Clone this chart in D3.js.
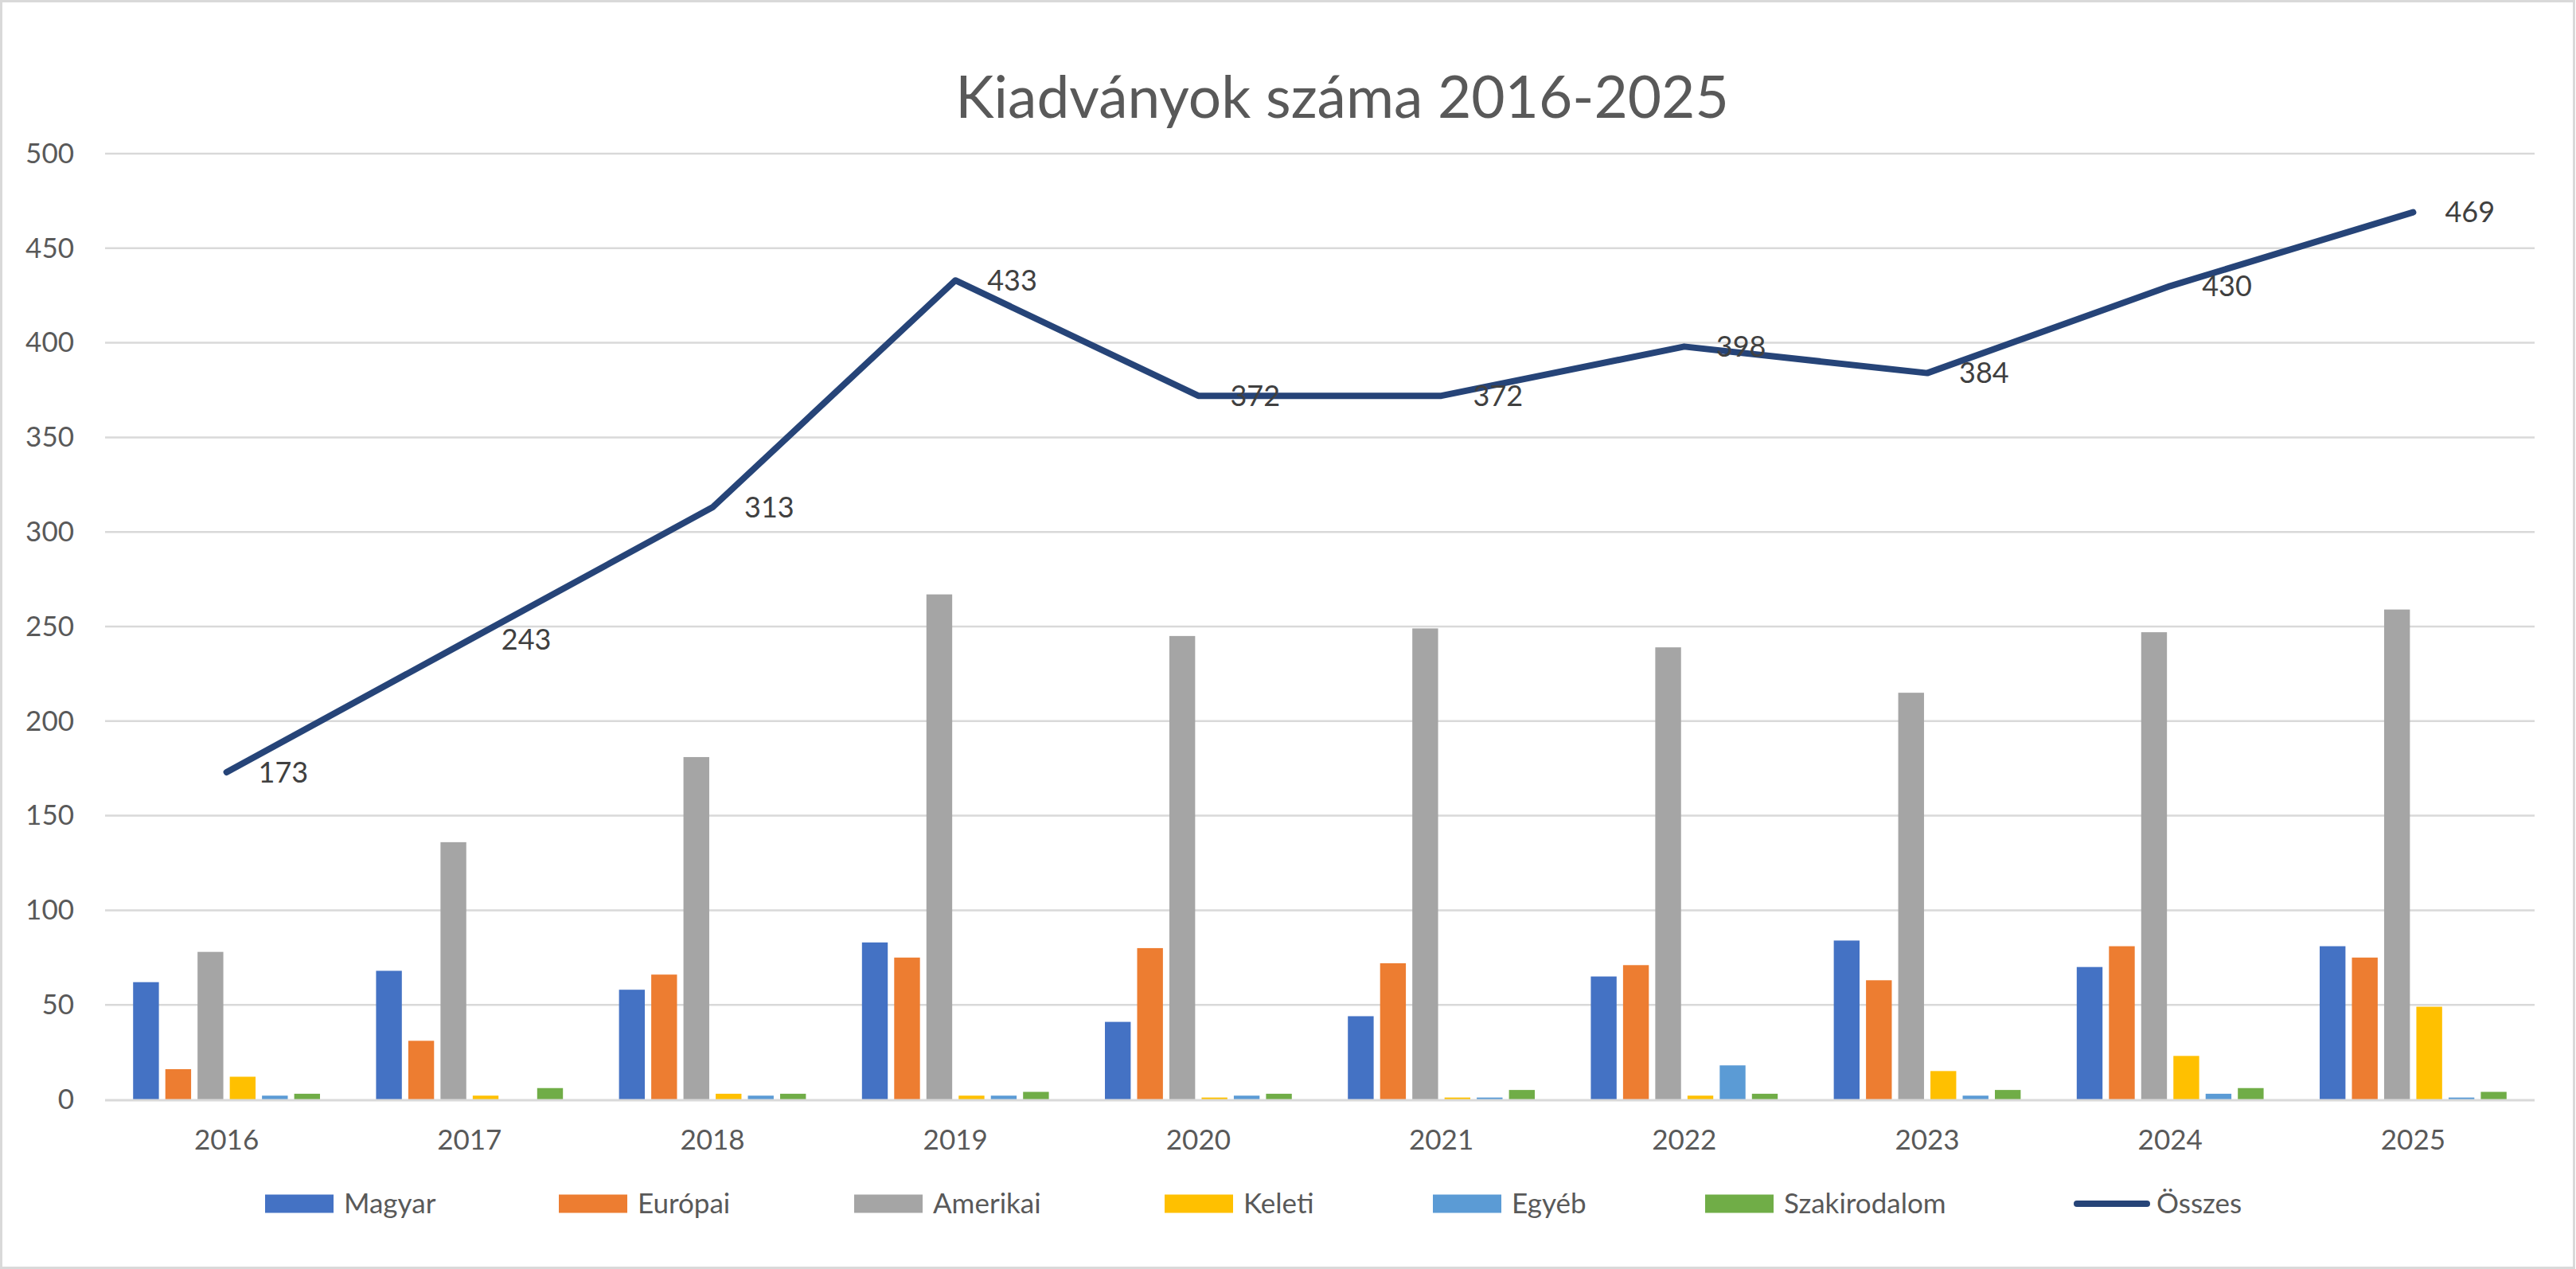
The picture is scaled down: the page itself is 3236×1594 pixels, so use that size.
<!DOCTYPE html>
<html>
<head>
<meta charset="utf-8">
<script src="https://cdn.jsdelivr.net/npm/d3@7"></script>
<style>
  html, body { margin: 0; padding: 0; background: #fff; }
  svg { display: block; }
  text { font-family: Lato, "Open Sans", sans-serif; }
</style>
</head>
<body>
<svg id="chart" width="3236" height="1594"></svg>
<script>
const years = ["2016","2017","2018","2019","2020","2021","2022","2023","2024","2025"];
const seriesNames = ["Magyar","Európai","Amerikai","Keleti","Egyéb","Szakirodalom"];
const magyar      = [62, 68, 58, 83, 41, 44, 65, 84, 70, 81];
const europai     = [16, 31, 66, 75, 80, 72, 71, 63, 81, 75];
const amerikai    = [78, 136, 181, 267, 245, 249, 239, 215, 247, 259];
const keleti      = [12, 2, 3, 2, 1, 1, 2, 15, 23, 49];
const egyeb       = [2, 0, 2, 2, 2, 1, 18, 2, 3, 1];
const szakirodalom= [3, 6, 3, 4, 3, 5, 3, 5, 6, 4];
const osszes      = [173, 243, 313, 433, 372, 372, 398, 384, 430, 469];
const yTicks      = [0, 50, 100, 150, 200, 250, 300, 350, 400, 450, 500];
const lineName    = "Összes";
const title       = "Kiadványok száma 2016-2025";

const seriesValues = [magyar, europai, amerikai, keleti, egyeb, szakirodalom];
const colors = ["#4472C4", "#ED7D31", "#A5A5A5", "#FFC000", "#5B9BD5", "#70AD47"];
const lineColor = "#264478";

const W = 3236, H = 1594;
const svg = d3.select("#chart");

// chart border
svg.append("rect").attr("x", 1.5).attr("y", 1.5).attr("width", W - 4).attr("height", H - 3)
  .attr("fill", "#fff").attr("stroke", "#D9D9D9").attr("stroke-width", 3);

const x = d3.scaleBand().domain(years).range([132, 3184]).paddingInner(0).paddingOuter(0);
const xSub = d3.scaleBand().domain(seriesNames).range([0, x.bandwidth()]).paddingInner(0.2).paddingOuter(0.87);
const y = d3.scaleLinear().domain([0, 500]).range([1381, 193]);

// gridlines
svg.append("g").selectAll("line").data(yTicks.filter(t => t > 0)).join("line")
  .attr("x1", 132).attr("x2", 3184)
  .attr("y1", d => y(d)).attr("y2", d => y(d))
  .attr("stroke", "#D9D9D9").attr("stroke-width", 2.5);

// y axis labels
const yAxis = d3.axisLeft(y).tickValues(yTicks).tickSize(0).tickPadding(0);
const gy = svg.append("g").attr("transform", "translate(93,0)").call(yAxis);
gy.select(".domain").remove();
gy.selectAll("text").attr("font-size", 35).attr("fill", "#595959").attr("font-family", "Lato, sans-serif");

// bars
seriesNames.forEach((name, si) => {
  svg.append("g").selectAll("rect").data(years).join("rect")
    .attr("x", (d) => x(d) + xSub(name))
    .attr("width", xSub.bandwidth())
    .attr("y", (d, i) => y(seriesValues[si][i]))
    .attr("height", (d, i) => y(0) - y(seriesValues[si][i]))
    .attr("fill", colors[si]);
});

// x axis baseline
svg.append("line").attr("x1", 132).attr("x2", 3184).attr("y1", y(0) + 1).attr("y2", y(0) + 1)
  .attr("stroke", "#D9D9D9").attr("stroke-width", 3);

// x axis labels
const xAxis = d3.axisBottom(x).tickSize(0).tickPadding(0);
const gx = svg.append("g").attr("transform", "translate(0,1419)").call(xAxis);
gx.select(".domain").remove();
gx.selectAll("text").attr("font-size", 35).attr("fill", "#595959").attr("font-family", "Lato, sans-serif");

// total line
const cx = d => x(d) + x.bandwidth() / 2;
const line = d3.line().x((d, i) => cx(years[i])).y(d => y(d));
svg.append("path").datum(osszes).attr("d", line)
  .attr("fill", "none").attr("stroke", lineColor).attr("stroke-width", 8)
  .attr("stroke-linejoin", "round").attr("stroke-linecap", "round");

// data labels
svg.append("g").selectAll("text").data(osszes).join("text")
  .attr("x", (d, i) => cx(years[i]) + 40)
  .attr("y", d => y(d))
  .attr("dy", "0.35em")
  .attr("font-size", 36).attr("fill", "#404040")
  .text(d => d);

// title
svg.append("text").attr("x", 1686).attr("y", 148).attr("text-anchor", "middle")
  .attr("font-size", 73).attr("fill", "#595959").text(title);

// legend
const legendX = [333, 702, 1073, 1463, 1800, 2142, 2605];
const legendY = 1512;
const lg = svg.append("g");
seriesNames.forEach((name, i) => {
  lg.append("rect").attr("x", legendX[i]).attr("y", legendY - 11.5).attr("width", 86).attr("height", 23).attr("fill", colors[i]);
  lg.append("text").attr("x", legendX[i] + 99).attr("y", legendY).attr("dy", "0.35em")
    .attr("font-size", 35).attr("fill", "#595959").text(name);
});
lg.append("line").attr("x1", legendX[6] + 4).attr("x2", legendX[6] + 92)
  .attr("y1", legendY).attr("y2", legendY)
  .attr("stroke", lineColor).attr("stroke-width", 8).attr("stroke-linecap", "round");
lg.append("text").attr("x", legendX[6] + 104).attr("y", legendY).attr("dy", "0.35em")
  .attr("font-size", 35).attr("fill", "#595959").text(lineName);
</script>
</body>
</html>
